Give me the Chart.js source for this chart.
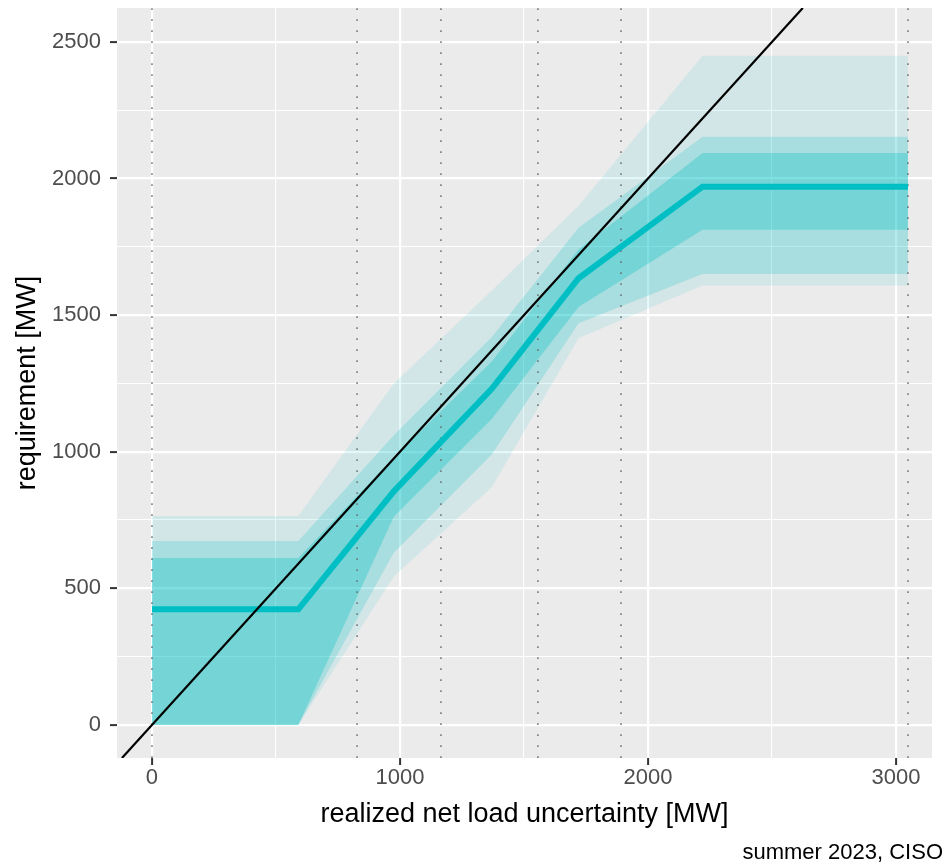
<!DOCTYPE html>
<html>
<head>
<meta charset="utf-8">
<title>requirement vs realized net load uncertainty</title>
<script src="https://cdn.jsdelivr.net/npm/chart.js@4.4.1/dist/chart.umd.min.js"></script>
<style>
  html, body { margin: 0; padding: 0; background: #ffffff; }
</style>
</head>
<body>
<canvas id="myChart" width="947" height="865"></canvas>
<script>
// realized net load uncertainty [MW] at each bin point
const uncertainty = [0, 590, 975, 1370, 1720, 2220, 3048];
// requirement [MW]: median and three quantile bands
const median  = [423, 423, 855, 1230, 1635, 1970, 1970];
const innerHi = [611, 611, 980, 1330, 1740, 2093, 2093];
const innerLo = [0, 0, 762, 1120, 1530, 1812, 1812];
const midHi   = [673, 673, 1060, 1420, 1820, 2153, 2153];
const midLo   = [0, 0, 630, 990, 1470, 1650, 1650];
const outerHi = [765, 765, 1250, 1590, 1900, 2449, 2449];
const outerLo = [0, 0, 543, 870, 1415, 1608, 1608];

// dotted bin edges
const binEdges = [0, 827, 1165, 1556, 1891, 3048];

const xTicks = [0, 1000, 2000, 3000];
const xMinor = [500, 1500, 2500];
const yTicks = [0, 500, 1000, 1500, 2000, 2500];
const yMinor = [250, 750, 1250, 1750, 2250];
const xLimits = [-141, 3145];
const yLimits = [-121, 2624];

const teal = "#00BFC4";
const fontFamily = "'Liberation Sans', Arial, sans-serif";

function points(ys) {
  return uncertainty.map((x, i) => ({ x: x, y: ys[i] }));
}

function band(hi, lo, alpha) {
  return [
    { data: points(hi), borderWidth: 0, pointRadius: 0, fill: "+1",
      backgroundColor: "rgba(0,191,196," + alpha + ")" },
    { data: points(lo), borderWidth: 0, pointRadius: 0, fill: false }
  ];
}

const edgeLines = binEdges.map(e => ({
  data: [{ x: e, y: yLimits[0] }, { x: e, y: yLimits[1] }],
  borderColor: "rgba(105,105,105,0.8)",
  borderWidth: 1.7,
  borderDash: [1.7, 9.3],
  pointRadius: 0,
  fill: false
}));

const datasets = [
  {
    // y = x reference line
    data: [{ x: yLimits[0], y: yLimits[0] }, { x: yLimits[1], y: yLimits[1] }],
    borderColor: "#000000",
    borderWidth: 2.2,
    pointRadius: 0,
    fill: false
  },
  {
    data: points(median),
    borderColor: teal,
    borderWidth: 6,
    pointRadius: 0,
    fill: false
  },
  ...edgeLines,
  ...band(innerHi, innerLo, 0.3),
  ...band(midHi, midLo, 0.2),
  ...band(outerHi, outerLo, 0.1)
];

function setTicks(major, minor) {
  return function (scale) {
    scale.ticks = major.concat(minor).sort((a, b) => a - b).map(v => ({ value: v }));
  };
}

function gridOpts(major) {
  return {
    color: "#ffffff",
    lineWidth: ctx => major.includes(ctx.tick && ctx.tick.value) ? 2.2 : 1.1,
    tickColor: ctx => major.includes(ctx.tick && ctx.tick.value) ? "#333333" : "rgba(0,0,0,0)",
    tickLength: 7,
    tickWidth: 2
  };
}

const panelBackground = {
  id: "panelBackground",
  beforeDraw(chart) {
    const { ctx, chartArea } = chart;
    ctx.save();
    ctx.fillStyle = "#EBEBEB";
    ctx.fillRect(chartArea.left, chartArea.top, chartArea.right - chartArea.left, chartArea.bottom - chartArea.top);
    ctx.restore();
  }
};

const caption = {
  id: "caption",
  afterDraw(chart) {
    const ctx = chart.ctx;
    ctx.save();
    ctx.font = "22px " + fontFamily;
    ctx.fillStyle = "#000000";
    ctx.textAlign = "right";
    ctx.textBaseline = "alphabetic";
    ctx.fillText("summer 2023, CISO", 943, 859);
    ctx.restore();
  }
};

const ctx = document.getElementById("myChart");

new Chart(ctx, {
  type: "line",
  data: { datasets: datasets },
  plugins: [panelBackground, caption],
  options: {
    responsive: false,
    animation: false,
    devicePixelRatio: 1,
    layout: { padding: { top: 8, right: 15, left: 0, bottom: 0 } },
    plugins: {
      legend: { display: false },
      tooltip: { enabled: false }
    },
    scales: {
      x: {
        type: "linear",
        min: xLimits[0],
        max: xLimits[1],
        afterBuildTicks: setTicks(xTicks, xMinor),
        afterFit: scale => {
          scale.height = 107;
          scale.paddingLeft = 0;
          scale.paddingRight = 0;
        },
        border: { display: false },
        grid: gridOpts(xTicks),
        ticks: {
          color: "#4D4D4D",
          font: { family: fontFamily, size: 22 },
          padding: 0,
          maxRotation: 0,
          autoSkip: false,
          callback: v => xTicks.includes(v) ? String(v) : ""
        },
        title: {
          display: true,
          text: "realized net load uncertainty [MW]",
          color: "#000000",
          font: { family: fontFamily, size: 27 },
          padding: { top: 0, bottom: 34 }
        }
      },
      y: {
        type: "linear",
        min: yLimits[0],
        max: yLimits[1],
        afterBuildTicks: setTicks(yTicks, yMinor),
        afterFit: scale => {
          scale.width = 117;
          scale.paddingTop = 0;
          scale.paddingBottom = 0;
        },
        border: { display: false },
        grid: gridOpts(yTicks),
        ticks: {
          color: "#4D4D4D",
          font: { family: fontFamily, size: 22 },
          padding: 9,
          autoSkip: false,
          callback: v => yTicks.includes(v) ? String(v) : ""
        },
        title: {
          display: true,
          text: "requirement [MW]",
          color: "#000000",
          font: { family: fontFamily, size: 27 },
          padding: { top: 11, bottom: 0 }
        }
      }
    }
  }
});
</script>
</body>
</html>
